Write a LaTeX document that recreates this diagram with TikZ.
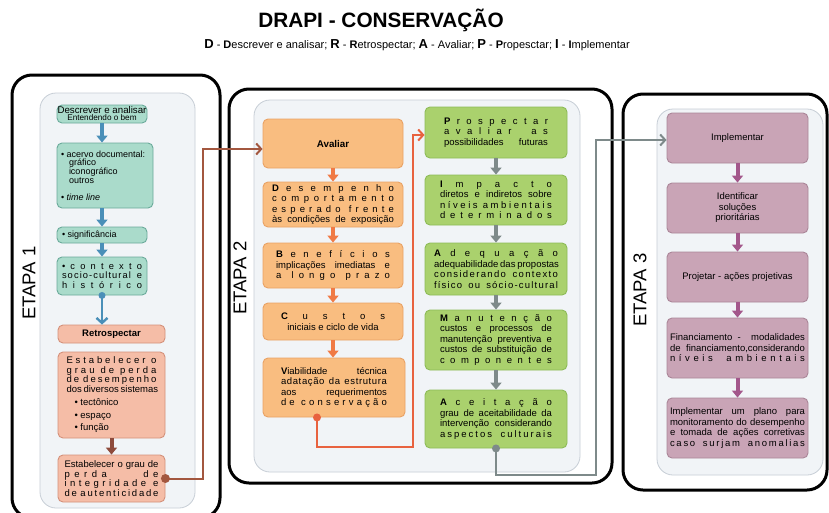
\documentclass[tikz,border=0pt]{standalone}
\usepackage{fontspec}
\setmainfont{Liberation Sans}
\usetikzlibrary{arrows.meta}
\definecolor{tealf}{HTML}{AADBCB}
\definecolor{tealb}{HTML}{6AAA9A}
\definecolor{teala}{HTML}{4A8FB8}
\definecolor{peachf}{HTML}{F5BDA7}
\definecolor{peachb}{HTML}{D4907A}
\definecolor{browna}{HTML}{8E4B3C}
\definecolor{brownc}{HTML}{A3573F}
\definecolor{orangef}{HTML}{F9BD80}
\definecolor{orangeb}{HTML}{E9A265}
\definecolor{orangea}{HTML}{F07A45}
\definecolor{orangec}{HTML}{E8623F}
\definecolor{greenf}{HTML}{AAD16D}
\definecolor{greenb}{HTML}{8DBB57}
\definecolor{graya}{HTML}{7E8A8A}
\definecolor{purplef}{HTML}{C9A4B6}
\definecolor{purpleb}{HTML}{AA8698}
\definecolor{purplea}{HTML}{A3578B}
\definecolor{panelf}{HTML}{F1F4F7}
\definecolor{panelb}{HTML}{C7CED6}
\newlength\bw
\newcommand\Js[1]{\makebox[\bw][s]{#1}}
\newcommand\Lf[1]{\makebox[\bw][l]{#1}}
\newcommand\Cn[1]{\makebox[\bw][c]{#1}}
\newcommand\kl[1]{{\fontsize{13}{13}\selectfont\bfseries #1}}
% letter-spaced justified line
\let\LSend\relax
\def\LSletters#1{\ifx#1\LSend\else#1\hskip0pt plus 1fil\relax\expandafter\LSletters\fi}
\def\LSwords#1 #2\LSstop{\LSletters#1\LSend\ifx\relax#2\relax\else\hskip 2.5pt plus 2fil\relax\LSwords#2\LSstop\fi}
\newcommand\Ls[1]{\makebox[\bw][s]{\LSwords#1 \LSstop\unskip}}
\begin{document}
\begin{tikzpicture}[x=1pt,y=-1pt,
  outer/.style={draw=black, line width=3pt, rounded corners=20pt},
  panel/.style={draw=panelb, fill=panelf, line width=0.8pt, rounded corners=16pt},
  box/.style={draw, line width=0.9pt, rounded corners=5pt, inner sep=0pt, align=center},
  tbox/.style={box, draw=tealb, fill=tealf, font=\fontsize{9}{9.5}\selectfont\setlength\bw{#1}},
  tbox/.default=80pt,
  pbox/.style={box, draw=peachb, fill=peachf, font=\fontsize{9.5}{9.5}\selectfont\setlength\bw{#1}},
  pbox/.default=90pt,
  obox/.style={box, draw=orangeb, fill=orangef, font=\fontsize{9.5}{10.5}\selectfont\setlength\bw{#1}},
  obox/.default=120pt,
  gbox/.style={box, draw=greenb, fill=greenf, font=\fontsize{9.5}{10.5}\selectfont\setlength\bw{#1}},
  gbox/.default=112pt,
  ubox/.style={box, draw=purpleb, fill=purplef, font=\fontsize{9.5}{10.5}\selectfont\setlength\bw{#1}},
  ubox/.default=135pt,
  blk/.style={line width=4pt, -{Triangle[width=11pt,length=7pt]}},
  conn/.style={line width=2pt, -{Straight Barb[length=5pt,width=11pt]}},
  etapa/.style={rotate=90, font=\fontsize{18.5}{18.5}\selectfont}
]
\useasboundingbox (0,0) rectangle (829,512);
\clip (0,0) rectangle (829,512);
\fill[white] (0,0) rectangle (829,512);

% title
\node[font=\bfseries\fontsize{20.8}{21}\selectfont] (title) at (381,20) {DRAPI - CONSERVAÇÃO};
\node[font=\fontsize{11}{11}\selectfont] (sub) at (417,45) {\kl{D} - \textbf{D}escrever e analisar; \kl{R} - \textbf{R}etrospectar; \kl{A} - Avaliar; \kl{P} - \textbf{P}ropesctar; \kl{I} - \textbf{I}mplementar};

% outer frames
\draw[outer] (12,75) rectangle (220,518);
\draw[outer] (229,89) rectangle (612,483);
\draw[outer] (623,94) rectangle (827,490);

% panels
\draw[panel] (40,93) rectangle (195,508);
\draw[panel] (254,100) rectangle (580,472);
\draw[panel] (657,109) rectangle (823,475);

% etapa labels
\node[etapa] (e1) at (29,283) {ETAPA 1};
\node[etapa] (e2) at (240,278) {ETAPA 2};
\node[etapa] (e3) at (640,290) {ETAPA 3};

% ETAPA 1 boxes
\node[tbox, minimum width=90pt, minimum height=18pt] (T1) at (102,114)
  {{\fontsize{9.7}{9.5}\selectfont Descrever e analisar}\\[-2.5pt]{\fontsize{8.2}{8}\selectfont Entendendo o bem}};
\node[tbox=88pt, minimum width=96pt, minimum height=65pt, font=\fontsize{9}{8.8}\selectfont\setlength\bw{88pt}] (T2) at (105,175.5)
  {\Lf{• acervo documental:}\\ \Lf{\hspace{8pt}gráfico}\\ \Lf{\hspace{8pt}iconográfico}\\ \Lf{\hspace{8pt}outros}\\[8pt] \Lf{• \textit{time line}}};
\node[tbox, minimum width=90pt, minimum height=16pt] (T3) at (102,235) {\Lf{• significância}};
\node[tbox, minimum width=90pt, minimum height=38pt, font=\fontsize{9.3}{9.8}\selectfont\setlength\bw{80pt}] (T4) at (102,276)
  {\Js{• c o n t e x t o}\\ \Ls{socio-cultural e}\\ \Js{h i s t ó r i c o}};
\node[pbox, minimum width=107pt, minimum height=18pt] (R) at (111.5,334) {\textbf{Retrospectar}};
\node[pbox, minimum width=107pt, minimum height=86pt] (E) at (111.5,395)
  {\Js{E s t a b e l e c e r \ o}\\ \Js{g r a u \ d e \ p e r d a}\\ \Js{d e \ d e s e m p e n h o}\\ \Js{dos diversos sistemas}\\[4pt]
   \Lf{\hspace{8pt}• tectônico}\\[3pt] \Lf{\hspace{8pt}• espaço}\\[3pt] \Lf{\hspace{8pt}• função}};
\node[pbox=94pt, minimum width=107pt, minimum height=47pt] (B8) at (111.5,478.5)
  {\Js{Estabelecer o grau de}\\ \Js{p e r d a \ \ \ \ \ \ \ d e}\\ \Js{i n t e g r i d a d e \ e}\\ \Js{d e \ a u t e n t i c i d a d e}};

% ETAPA 2 orange
\node[obox, minimum width=140pt, minimum height=49pt, font=\bfseries\fontsize{9.8}{10}\selectfont] (A1) at (333,143.5) {Avaliar};
\node[obox=122pt, minimum width=140pt, minimum height=45pt] (A2) at (333,204.5)
  {\Js{\textbf{D} e s e m p e n h o}\\ \Js{c o m p o r t a m e n t o}\\ \Js{e s p e r a d o \ f r e n t e}\\ \Js{às condições de exposição}};
\node[obox=114pt, minimum width=140pt, minimum height=45pt] (A3) at (333,265.5)
  {\Js{\textbf{B} e n e f í c i o s}\\ \Js{implicações imediatas e}\\ \Js{a \ l o n g o \ p r a z o}};
\node[obox=104pt, minimum width=140pt, minimum height=37pt] (A4) at (333,321.5)
  {\Js{\textbf{C} u s t o s}\\ \Cn{iniciais e ciclo de vida}};
\node[obox=106pt, minimum width=142pt, minimum height=59pt] (A5) at (334,387.5)
  {\Js{\textbf{V}iabilidade técnica}\\ \Ls{adatação da estrutura}\\ \Js{aos requerimentos}\\ \Js{d e \ c o n s e r v a ç ã o}};

% ETAPA 2 green
\node[gbox=104pt, minimum width=142pt, minimum height=51pt] (P1) at (496,132.5)
  {\Js{\textbf{P} r o s p e c t a r}\\ \Js{a v a l i a r \ \ a s}\\ \Js{possibilidades futuras}};
\node[gbox, minimum width=142pt, minimum height=50pt] (P2) at (496,200)
  {\Js{\textbf{I} m p a c t o}\\ \Js{diretos e indiretos sobre}\\ \Js{n í v e i s \ a m b i e n t a i s}\\ \Js{d e t e r m i n a d o s}};
\node[gbox=124pt, minimum width=142pt, minimum height=52pt] (P3) at (496,269)
  {\Js{\textbf{A} d e q u a ç ã o}\\ \Js{adequabilidade das propostas}\\ \Ls{considerando contexto}\\ \Ls{físico ou sócio-cultural}};
\node[gbox, minimum width=142pt, minimum height=60pt] (P4) at (496,340)
  {\Js{\textbf{M} a n u t e n ç ã o}\\ \Js{custos e processos de}\\ \Js{manutenção preventiva e}\\ \Js{custos de substituição de}\\ \Js{c o m p o n e n t e s}};
\node[gbox, minimum width=142pt, minimum height=58pt] (P5) at (496,419)
  {\Js{\textbf{A} c e i t a ç ã o}\\ \Js{grau de aceitabilidade da}\\ \Js{intervenção considerando}\\ \Ls{aspectos culturais}};

% ETAPA 3 purple
\node[ubox, minimum width=141pt, minimum height=50pt] (I1) at (737.5,138) {Implementar};
\node[ubox, minimum width=141pt, minimum height=50pt] (I2) at (737.5,208) {Identificar\\ soluções\\ prioritárias};
\node[ubox, minimum width=141pt, minimum height=50pt] (I3) at (737.5,277) {Projetar - ações projetivas};
\node[ubox, minimum width=141pt, minimum height=60pt] (I4) at (737.5,348)
  {\Js{Financiamento - \ modalidades}\\ \Js{de financiamento,considerando}\\ \Ls{níveis ambientais}};
\node[ubox, minimum width=141pt, minimum height=60pt] (I5) at (737.5,428)
  {\Js{Implementar \ um \ plano \ para}\\ \Js{monitoramento do desempenho}\\ \Js{e tomada de ações corretivas}\\ \Ls{caso surjam anomalias}};

% block arrows
\draw[blk, teala] (T1.south) -- (T1.south |- T2.north);
\draw[blk, teala] (T2.south -| T3.north) -- (T3.north);
\draw[blk, teala] (T3.south) -- (T4.north);
\draw[blk, browna] (E.south) -- (B8.north);
\draw[blk, orangea] (A1.south) -- (A2.north);
\draw[blk, orangea] (A2.south) -- (A3.north);
\draw[blk, orangea] (A3.south) -- (A4.north);
\draw[blk, orangea] (A4.south) -- (A4.south |- A5.north);
\draw[blk, graya] (P1.south) -- (P2.north);
\draw[blk, graya] (P2.south) -- (P3.north);
\draw[blk, graya] (P3.south) -- (P4.north);
\draw[blk, graya] (P4.south) -- (P5.north);
\draw[blk, purplea] (I1.south) -- (I2.north);
\draw[blk, purplea] (I2.south) -- (I3.north);
\draw[blk, purplea] (I3.south) -- (I4.north);
\draw[blk, purplea] (I4.south) -- (I5.north);

% teal connector to Retrospectar
\fill[teala] (T4.south) circle (3.5pt);
\draw[conn, teala, line width=2.4pt] (T4.south) -- (T4.south |- R.north);

% brown connector
\coordinate (bx) at (203,149);
\fill[brownc] (B8.east) circle (4.5pt);
\draw[conn, brownc] (B8.east) -| (bx) -- (A1.west |- bx);

% orange connector
\coordinate (oc1) at (317,447);
\coordinate (oc2) at (413,135);
\fill[orangec] (A5.south -| oc1) circle (4pt);
\draw[conn, orangec] (A5.south -| oc1) -- (oc1) -| (oc2) -- (P1.west |- oc2);

% gray connector
\coordinate (gc1) at (596,475);
\coordinate (gc2) at (596,140);
\fill[graya] (P5.south) circle (4pt);
\draw[conn, graya] (P5.south) |- (gc1) -- (gc2) -- (I1.west |- gc2);
\end{tikzpicture}
\end{document}
